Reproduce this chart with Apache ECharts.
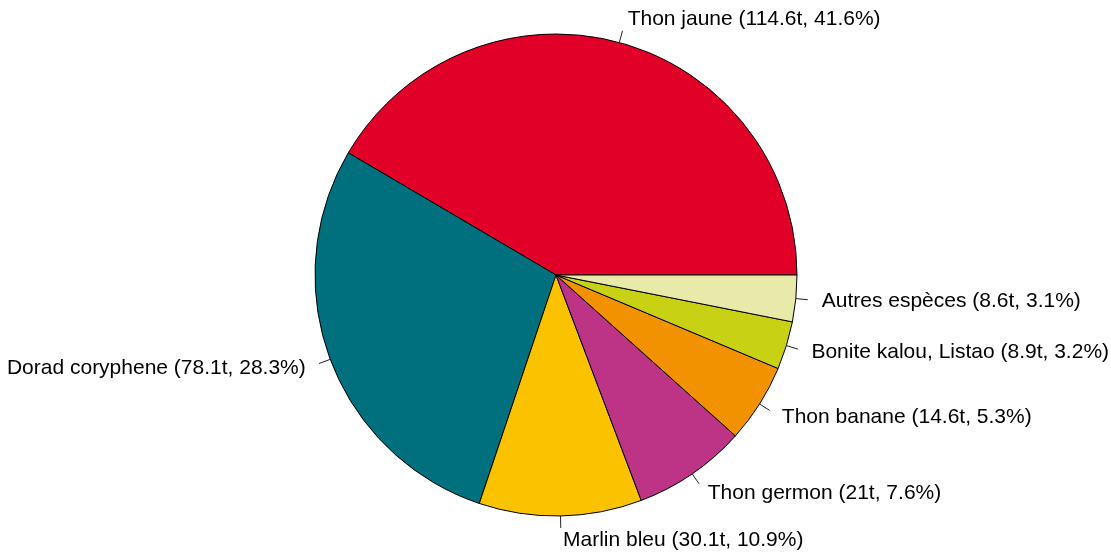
<!DOCTYPE html>
<html>
<head>
<meta charset="utf-8">
<script src="https://cdn.jsdelivr.net/npm/echarts@6/dist/echarts.min.js"></script>
<style>
  html, body { margin: 0; padding: 0; background: #fff; }
  #chart { width: 1111px; height: 553px; }
</style>
</head>
<body>
<div id="chart"></div>
<script>
// captures par espèce (tonnes) et part en %
const species = [
  'Thon jaune',
  'Dorad coryphene',
  'Marlin bleu',
  'Thon germon',
  'Thon banane',
  'Bonite kalou, Listao',
  'Autres espèces',
];
const tonnes = [114.6, 78.1, 30.1, 21, 14.6, 8.9, 8.6];
const percents = ['41.6', '28.3', '10.9', '7.6', '5.3', '3.2', '3.1'];
const colors = ['#E00028', '#00707E', '#FBC200', '#BD3385', '#F39200', '#C8D114', '#E8EAAA'];

const chart = echarts.init(document.getElementById('chart'));

let data = species.map((name, i) => ({
  name: name,
  value: tonnes[i],
  pct: percents[i],
  itemStyle: { color: colors[i] },
}));

chart.setOption({
  animation: false,
  series: [
    {
      type: 'pie',
      center: [556, 275],
      radius: 241,
      startAngle: 0,
      clockwise: false,
      avoidLabelOverlap: false,
      data: data,
      itemStyle: { borderColor: '#000', borderWidth: 1 },
      emphasis: { disabled: true },
      label: {
        show: true,
        position: 'outside',
        alignTo: 'none',
        distanceToLabelLine: 2,
        color: '#000',
        fontFamily: 'Liberation Sans, Arial, sans-serif',
        fontSize: 21,
        formatter: p => `${p.name} (${p.value}t, ${p.data.pct}%)`,
      },
      labelLine: {
        show: true,
        length: 12,
        length2: 0,
        lineStyle: { color: '#222', width: 1 },
      },
      // texte poussé un peu plus loin le long du rayon, comme dans R
      labelLayout: params => {
        let pts = params.labelLinePoints;
        if (!pts) return {};
        return { dx: pts[1][0] - pts[0][0], dy: pts[1][1] - pts[0][1] };
      },
    },
  ],
});
</script>
</body>
</html>
